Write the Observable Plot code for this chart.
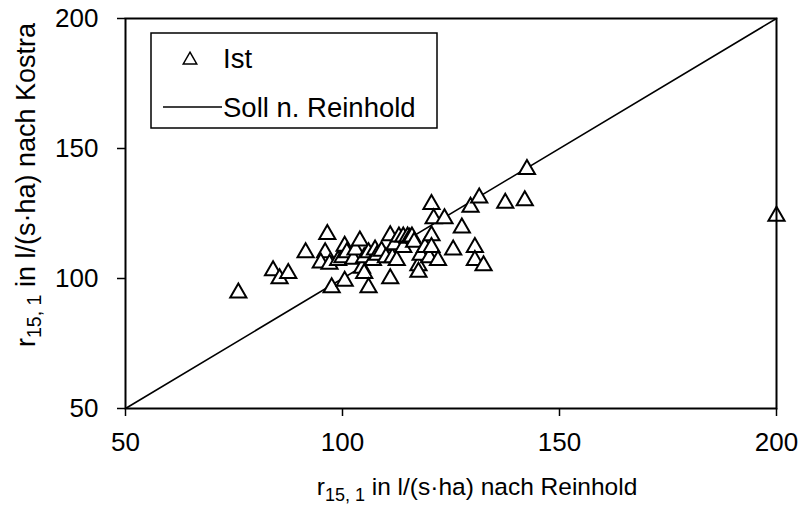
<!DOCTYPE html>
<html>
<head>
<meta charset="utf-8">
<script src="https://cdn.jsdelivr.net/npm/d3@7"></script>
<script src="https://cdn.jsdelivr.net/npm/@observablehq/plot@0.6"></script>
<style>
  html, body { margin: 0; padding: 0; background: #fff; }
  #chart { width: 801px; height: 508px; }
</style>
</head>
<body>
<div id="chart"></div>
<script>
// "Ist" points: x = r15,1 nach Reinhold, y = r15,1 nach Kostra
const istX = [76, 84, 85.5, 87.5, 91.5, 96.5, 96, 95, 97, 97.5, 99, 100, 100.5, 100.5, 101, 102.5, 103, 104, 104.5, 105, 105, 106, 106, 107, 107.5, 108, 109, 110, 111, 111, 111.5, 112, 112.5, 113, 114, 114, 115, 115.5, 116, 116.5, 117.5, 117.5, 118, 119, 120, 120.5, 120.5, 120.5, 121, 122, 123.5, 125.5, 127.5, 129.5, 130.5, 130.5, 131.5, 132.5, 137.5, 142, 142.5, 200];
const istY = [94.5, 103, 100, 102, 110, 117, 110, 106, 105.5, 96.5, 107, 108, 99, 112.5, 110, 107.5, 111, 114.5, 104, 108, 102, 96.5, 110, 107, 111, 109, 110.5, 108, 116.5, 100, 108, 113, 107, 116, 116, 112, 116, 115.5, 116, 114, 105, 102.5, 109, 112, 108, 128.5, 116.5, 112, 123, 107, 123, 111, 119.5, 127.5, 112, 107, 131, 105, 129, 130, 142, 124];
// "Soll n. Reinhold" line (1:1)
const sollX = [50, 200];
const sollY = [50, 200];
const xTicks = [50, 100, 150, 200];
const yTicks = [50, 100, 150, 200];
const legendLabels = ["Ist", "Soll n. Reinhold"];

const ist = istX.map((x, i) => ({x, y: istY[i]}));
const soll = sollX.map((x, i) => ({x, y: sollY[i]}));

const FONT = "'Liberation Sans', Arial, sans-serif";

const plot = Plot.plot({
  width: 801,
  height: 508,
  marginLeft: 125,
  marginRight: 25,
  marginTop: 18,
  marginBottom: 100,
  style: {fontFamily: FONT, fontSize: "26px", color: "#000", background: "#fff"},
  x: {domain: [50, 200]},
  y: {domain: [50, 200]},
  marks: [
    Plot.line(soll, {x: "x", y: "y", stroke: "#000", strokeWidth: 1.6}),
    Plot.dot(ist, {x: "x", y: "y", symbol: "triangle", r: 6, stroke: "#000", strokeWidth: 2, fill: "#fff"}),
    Plot.frame({stroke: "#000", strokeWidth: 2}),
    Plot.axisX({ticks: xTicks, tickSize: 8, tickPadding: 16, fontSize: 26, label: null, strokeWidth: 1.5}),
    Plot.axisY({ticks: yTicks, tickSize: 8, tickPadding: 19, fontSize: 26, label: null, strokeWidth: 1.5})
  ]
});
document.getElementById("chart").appendChild(plot);

// Axis titles with subscripts and legend
const svg = d3.select(plot);
function title(g, rest, sub) {
  g.append("tspan").text("r");
  g.append("tspan").attr("font-size", sub + "px").attr("dy", "6").text("15, 1");
  g.append("tspan").attr("dy", "-6").text(" " + rest);
}
const xt = svg.append("text")
  .attr("x", 477).attr("y", 495)
  .attr("text-anchor", "middle")
  .attr("font-family", FONT).attr("font-size", "24.5px").attr("fill", "#000");
title(xt, "in l/(s·ha) nach Reinhold", 18);
const yt = svg.append("text")
  .attr("transform", "translate(35,185) rotate(-90)")
  .attr("text-anchor", "middle")
  .attr("font-family", FONT).attr("font-size", "27px").attr("fill", "#000");
title(yt, "in l/(s·ha) nach Kostra", 19.5);

const lg = svg.append("g").attr("font-family", FONT).attr("font-size", "27.5px").attr("fill", "#000").attr("text-anchor", "start");
lg.append("rect").attr("x", 151).attr("y", 33).attr("width", 286).attr("height", 95)
  .attr("fill", "#fff").attr("stroke", "#000").attr("stroke-width", 1.5);
lg.append("path").attr("transform", "translate(190,60)")
  .attr("d", d3.symbol(d3.symbolTriangle, 5 * 5 * Math.PI)())
  .attr("fill", "#fff").attr("stroke", "#000").attr("stroke-width", 1.5);
lg.append("text").attr("x", 223).attr("y", 68).text(legendLabels[0]);
lg.append("line").attr("x1", 163).attr("x2", 222).attr("y1", 107).attr("y2", 107)
  .attr("stroke", "#000").attr("stroke-width", 1.6);
lg.append("text").attr("x", 223).attr("y", 117).text(legendLabels[1]);
</script>
</body>
</html>
